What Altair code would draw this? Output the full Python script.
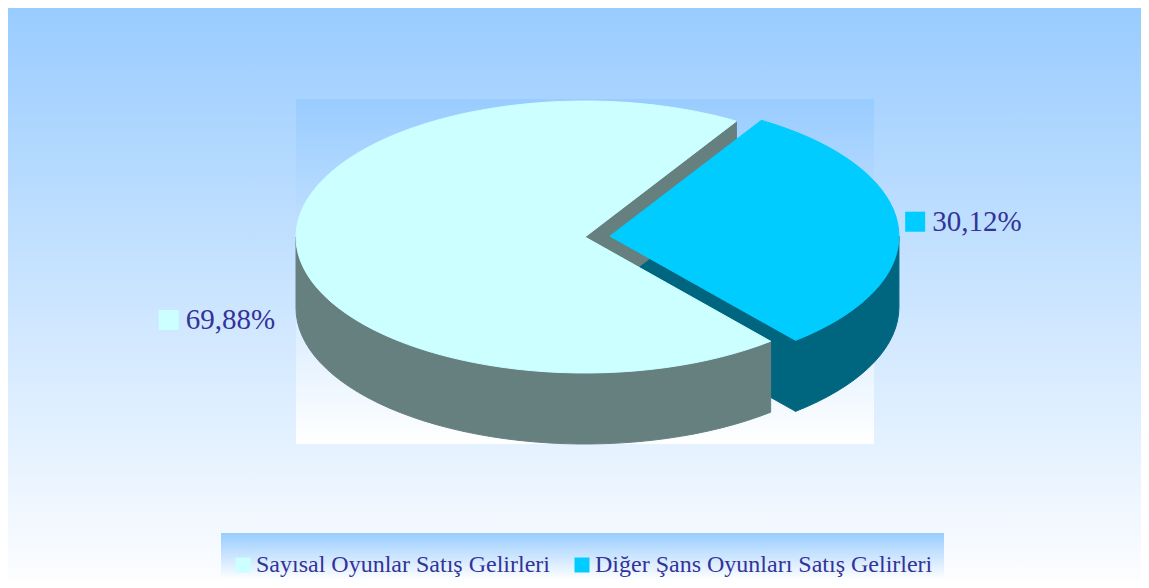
import math
import pandas as pd
import altair as alt

# ---- data ----
categories = ["Sayısal Oyunlar Satış Gelirleri", "Diğer Şans Oyunları Satış Gelirleri"]
shares = [69.88, 30.12]

# ---- styles ----
TOP_COLORS = ["#CCFFFF", "#00CCFF"]
SIDE_COLORS = ["#668080", "#006680"]
LABEL_COLOR = "#333399"
FONT = "Liberation Serif"

# ---- layout (page pixel units, mapped through the x/y scales) ----
OFF = 8
W, H = 1133, 572
CX, CY, RX, RY, DEPTH = 585.0, 237.0, 289.0, 136.0, 71.0
START = 58.4            # start angle of first slice (deg, counter-clockwise)
EXPLODE = [0.0, 25.0]
LABEL_OFFSETS = [(-128.0, 73.0), (17.0, -4.5)]
WALL_ORDER = [1, 0]
TOP_ORDER = [0, 1]
N = 120

rows = []


def add_poly(pid, pts, shade, z):
    pts = list(pts) + [pts[0]]
    for k, (x, y) in enumerate(pts):
        rows.append(dict(poly=pid, k=k, px=x, py=y, shade=shade, z=z))


def rim(cx, cy, t, dy=0.0):
    r = math.radians(t)
    return (cx + RX * math.cos(r), cy - RY * math.sin(r) + dy)


def arc(cx, cy, lo, hi, dy=0.0):
    n = max(2, int(N * (hi - lo) / 360) + 2)
    return [rim(cx, cy, lo + (hi - lo) * j / (n - 1), dy) for j in range(n)]


total = sum(shares)
labels = []
acc = 0.0
for i, (cat, v) in enumerate(zip(categories, shares)):
    a0 = START + acc / total * 360
    a1 = a0 + v / total * 360
    acc += v
    mid = (a0 + a1) / 2
    cx = CX + EXPLODE[i] * math.cos(math.radians(mid))
    cy = CY - EXPLODE[i] * (RY / RX) * math.sin(math.radians(mid))
    zw = WALL_ORDER.index(i)
    zt = 10 + TOP_ORDER.index(i)
    # visible outer wall (front half)
    for kk in range(-1, 3):
        lo = max(a0, 180 + 360 * kk)
        hi = min(a1, 360 + 360 * kk)
        if hi > lo:
            top = arc(cx, cy, lo, hi)
            bot = arc(cx, cy, lo, hi, DEPTH)[::-1]
            add_poly(f"wall{i}_{kk}", top + bot, SIDE_COLORS[i], zw)
    # radial cut faces
    if math.cos(math.radians(a0)) > 0:
        p, q = rim(cx, cy, a0), rim(cx, cy, a0, DEPTH)
        add_poly(f"cut{i}a", [(cx, cy), p, q, (cx, cy + DEPTH)], SIDE_COLORS[i], zw)
    if math.cos(math.radians(a1)) < 0:
        p, q = rim(cx, cy, a1), rim(cx, cy, a1, DEPTH)
        add_poly(f"cut{i}b", [(cx, cy), p, q, (cx, cy + DEPTH)], SIDE_COLORS[i], zw)
    # top face
    add_poly(f"top{i}", [(cx, cy)] + arc(cx, cy, a0, a1), TOP_COLORS[i], zt)
    # label
    rx_, ry_ = rim(cx, cy, mid)
    mx, my = rx_ + LABEL_OFFSETS[i][0], ry_ + LABEL_OFFSETS[i][1]
    labels.append(dict(category=cat, mx=mx, my=my, tx=mx + 17, ty=my + 9.5,
                       text=f"{v:.2f}".replace(".", ",") + "%"))

poly_df = pd.DataFrame(rows)
lab_df = pd.DataFrame(labels)

xscale = alt.Scale(domain=[OFF, OFF + W], nice=False, zero=False)
yscale = alt.Scale(domain=[OFF, OFF + H], nice=False, zero=False, reverse=True)


def X(f):
    return alt.X(f, type="quantitative", scale=xscale, axis=None)


def Y(f):
    return alt.Y(f, type="quantitative", scale=yscale, axis=None)


def grad(c0, c1):
    return alt.Gradient(gradient="linear", x1=0, x2=0, y1=0, y2=1,
                        stops=[alt.GradientStop(color=c0, offset=0),
                               alt.GradientStop(color=c1, offset=1)])


def bg_rect(x0, y0, x1, y1, c0, c1):
    return alt.Chart(alt.Data(values=[{}])).mark_rect(fill=grad(c0, c1)).encode(
        x=alt.value(x0 - OFF), x2=alt.value(x1 - OFF),
        y=alt.value(y0 - OFF), y2=alt.value(y1 - OFF))


layers = [
    bg_rect(OFF, OFF, OFF + W, OFF + H, "#99CCFF", "#FCFDFF"),
    bg_rect(296, 99, 874, 444, "#99CCFF", "#FFFFFF"),
    bg_rect(221, 533, 944, OFF + H, "#99CCFF", "#FFFFFF"),
]

for z in sorted(poly_df["z"].unique()):
    layers.append(
        alt.Chart(poly_df[poly_df["z"] == z]).mark_line(filled=True, strokeWidth=1).encode(
            x=X("px"), y=Y("py"),
            order=alt.Order("k:Q"),
            detail="poly:N",
            fill=alt.Fill("shade:N", scale=None),
            stroke=alt.Stroke("shade:N", scale=None),
        )
    )

layers.append(
    alt.Chart(lab_df).mark_point(shape="square", filled=True, size=400, opacity=1).encode(
        x=X("mx"), y=Y("my"),
        color=alt.Color("category:N",
                        scale=alt.Scale(domain=categories, range=TOP_COLORS),
                        legend=alt.Legend(
                            title=None, orient="none", direction="horizontal",
                            legendX=231 - OFF, legendY=553 - OFF,
                            symbolType="square", symbolSize=225, symbolStrokeWidth=0,
                            symbolOpacity=1, labelFont=FONT, labelFontSize=24,
                            labelColor=LABEL_COLOR, labelOffset=1, columnPadding=20,
                            padding=0, labelLimit=0)),
    )
)
layers.append(
    alt.Chart(lab_df).mark_text(align="left", baseline="alphabetic", font=FONT,
                                fontSize=29, color=LABEL_COLOR).encode(
        x=X("tx"), y=Y("ty"), text="text:N")
)

chart = alt.layer(*layers).properties(
    width=W, height=H, padding=0, autosize="none", background="white"
).configure_view(strokeWidth=0)

chart.save("out.html", embed_options={"renderer": "svg", "actions": False})
